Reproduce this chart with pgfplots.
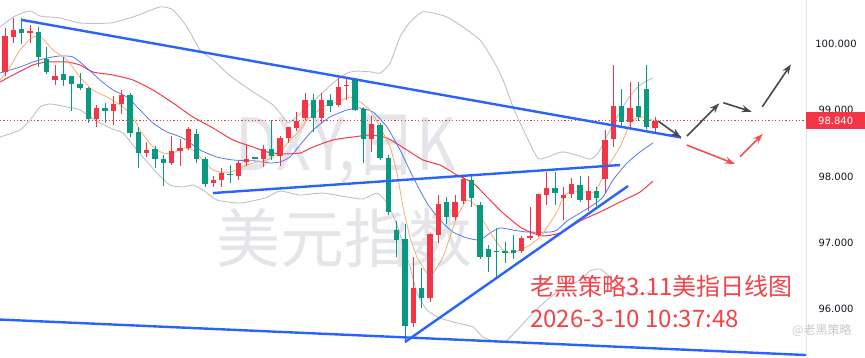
\documentclass[border=0pt]{standalone}
\usepackage{fontspec}
\setmainfont{Noto Sans CJK SC}
\newfontfamily\dejavu{DejaVu Sans}
\usepackage{pgfplots}
\usepackage{pgfplotstable}
\pgfplotsset{compat=1.18}
\usetikzlibrary{arrows.meta}
\definecolor{cup}{RGB}{242,54,69}
\definecolor{cdn}{RGB}{8,153,129}
\definecolor{ma5}{RGB}{246,172,112}
\definecolor{ma10}{RGB}{84,120,240}
\definecolor{ma20}{RGB}{242,60,72}
\definecolor{boll}{RGB}{192,192,200}
\definecolor{trend}{RGB}{41,98,255}
\definecolor{arrk}{RGB}{72,72,72}
\definecolor{arrr}{RGB}{245,78,78}
\definecolor{wm}{RGB}{229,229,233}
\definecolor{txtr}{RGB}{243,66,72}
\definecolor{tick}{RGB}{19,23,34}

\pgfplotstableread{
i o h l c
1 99.58 100.24 99.51 100.12
2 100.11 100.39 100.02 100.21
4 100.16 100.29 100.01 100.20
7 99.46 99.68 99.38 99.52
12 98.87 99.08 98.75 99.04
14 98.99 99.21 98.78 99.09
15 99.09 99.31 98.95 99.23
18 98.36 98.52 98.29 98.40
21 98.21 98.61 98.17 98.38
22 98.39 98.56 98.16 98.43
23 98.43 98.74 98.40 98.72
26 97.90 98.00 97.84 97.95
27 97.94 98.13 97.84 98.05
29 98.01 98.25 97.94 98.21
30 98.22 98.47 98.16 98.26
32 98.26 98.47 98.14 98.41
34 98.31 98.61 98.16 98.58
35 98.58 98.75 98.50 98.74
36 98.73 98.97 98.68 98.84
37 98.88 99.26 98.85 99.16
39 98.88 99.26 98.80 99.16
41 99.08 99.48 99.05 99.35
42 99.36 99.48 99.16 99.37
45 98.56 98.91 98.37 98.79
50 95.78 96.78 95.73 96.32
52 96.16 97.14 96.11 97.13
53 97.11 97.72 97.00 97.59
55 97.39 97.72 97.34 97.62
56 97.63 98.00 97.59 97.96
63 96.88 97.10 96.85 97.07
64 97.07 97.54 97.04 97.10
65 97.11 97.74 97.09 97.73
66 97.72 98.07 97.57 97.82
68 97.68 97.84 97.34 97.72
69 97.73 97.97 97.67 97.89
71 97.65 98.00 97.48 97.78
73 97.96 98.70 97.75 98.55
74 98.56 99.68 98.44 99.06
76 98.82 99.42 98.71 99.03
79 98.73 98.89 98.66 98.84
}\upc

\pgfplotstableread{
i o h l c
3 100.23 100.39 99.995 100.17
5 100.18 100.25 99.66 99.81
6 99.78 99.96 99.55 99.58
8 99.55 99.81 99.37 99.46
9 99.51 99.52 98.99 99.40
10 99.40 99.56 99.31 99.34
11 99.34 99.35 98.81 98.87
13 99.04 99.11 98.80 98.99
16 99.23 99.26 98.59 98.65
17 98.67 98.74 98.13 98.36
19 98.41 98.46 98.13 98.27
20 98.27 98.32 97.86 98.21
24 98.64 98.71 98.20 98.27
25 98.26 98.29 97.84 97.89
28 98.04 98.17 97.90 98.02
31 98.28 98.29 98.26 98.27
33 98.41 98.85 98.25 98.31
38 99.16 99.24 98.67 98.88
40 99.16 99.24 98.98 99.07
43 99.47 99.48 98.99 99.01
44 99.02 99.05 98.21 98.56
46 98.78 98.80 98.25 98.28
47 98.28 98.32 97.41 97.47
48 97.19 97.33 96.79 97.04
49 97.05 97.28 95.49 95.74
51 96.32 96.61 96.01 96.16
54 97.62 97.69 97.28 97.39
57 97.95 98.02 97.54 97.68
58 97.57 97.62 96.75 96.79
59 96.90 96.96 96.56 96.79
60 96.87 97.22 96.46 96.86
61 96.86 97.01 96.69 96.85
62 96.89 97.11 96.76 96.84
67 97.82 98.06 97.57 97.75
70 97.87 98.00 97.62 97.65
72 97.78 97.84 97.56 97.67
75 99.06 99.32 98.74 98.82
77 99.06 99.43 98.84 98.89
78 99.32 99.68 98.71 98.74
}\dnc

\pgfplotsset{
  candle/.style 2 args={only marks, mark=*, mark size=0pt, mark options={draw=none, fill=none},
    error bars/.cd, y dir=plus, y explicit, error mark=none,
    error bar style={draw=#1, line width=#2}},
}

\begin{document}
\begin{tikzpicture}
% watermark
\node[anchor=base, text=wm, font=\fontsize{72}{80}\selectfont, inner sep=0pt] at (346pt,187pt) {\scalebox{0.85}[1]{DXY,日K}};
\node[anchor=base, text=wm, font=\fontsize{64}{70}\selectfont, inner sep=0pt] at (344pt,94.5pt) {美元指数};

\begin{axis}[
  at={(0,0)}, anchor=south west,
  width=806pt, height=357pt, scale only axis,
  xmin=0.4, xmax=97.12, ymin=95.2723, ymax=100.6647,
  axis line style={draw=none},
  xtick=\empty,
  ytick={96,97,98,99,100},
  yticklabel pos=right,
  major tick length=0pt,
  yticklabel style={anchor=center, xshift=30pt, text=tick, font=\dejavu\fontsize{10}{12}\selectfont,
    /pgf/number format/.cd, fixed, fixed zerofill, precision=3, assume math mode=true},
  clip=true,
]
% Bollinger bands
\addplot[boll, line width=0.9pt, smooth, tension=0.35] coordinates {
(0.4,100.257) (2.2,100.423) (4.0,100.499) (5.2,100.423) (7.6,100.393) (10.0,100.317) (13.6,100.317) (16.36,100.408) (19.6,100.559) (21.16,100.514) (22.84,100.257) (24.4,99.91) (25.96,99.76) (27.64,99.56) (29.2,99.41) (31.6,99.21) (33.16,99.08) (34.36,98.90) (34.96,98.81) (35.8,98.88) (37.24,99.05) (38.8,99.23) (40.36,99.41) (42.04,99.56) (43.24,99.59) (44.8,99.58) (46.0,99.56) (47.2,99.71) (48.4,100.106) (49.6,100.33) (51.04,100.483) (52.36,100.468) (54.04,100.408) (55.96,100.257) (58.0,100.06) (59.56,99.76) (60.76,99.46) (61.96,99.05) (62.8,98.81) (64.84,98.29) (65.8,98.28) (67.84,98.37) (69.64,98.32) (71.2,98.26) (72.16,98.35) (73.6,98.70) (75.64,99.15) (77.2,99.38) (78.76,99.49)};
\addplot[boll, line width=0.9pt, smooth, tension=0.35] coordinates {
(0.4,98.595) (2.8,98.701) (4.0,98.852) (5.2,99.048) (6.4,99.094) (8.44,99.048) (10.0,99.003) (12.4,98.807) (14.2,98.701) (15.16,98.656) (16.84,98.399) (19.24,98.051) (20.8,97.870) (22.36,97.840) (23.56,97.870) (24.76,97.795) (26.44,97.644) (29.2,97.598) (32.2,97.674) (34.0,97.779) (36.4,97.719) (39.16,97.749) (42.04,97.689) (43.96,97.659) (45.64,97.749) (46.84,97.598) (48.04,97.266) (49.6,96.631) (50.44,96.239) (51.64,95.982) (53.2,95.861) (55.24,95.786) (57.16,95.725) (58.36,95.574) (60.04,95.499) (61.24,95.529) (62.8,95.725) (64.36,95.937) (66.04,96.133) (67.6,96.284) (70.0,96.435) (71.2,96.571) (72.4,96.601) (73.6,96.480) (74.8,96.284) (76.0,96.208) (78.04,96.239) (79.0,96.314)};
% MA20 (red)
\addplot[ma20, line width=1pt, smooth, tension=0.35] coordinates {
(0.4,99.426) (1.96,99.532) (4.36,99.683) (6.04,99.728) (8.44,99.728) (10.0,99.683) (11.56,99.577) (13.96,99.532) (16.36,99.456) (18.76,99.305) (21.16,99.109) (23.56,98.897) (25.96,98.731) (28.36,98.550) (30.76,98.444) (32.44,98.369) (34.36,98.339) (36.4,98.353) (37.96,98.444) (40.36,98.550) (42.76,98.595) (44.8,98.625) (46.84,98.580) (49.24,98.399) (51.16,98.248) (53.2,98.172) (55.24,98.021) (57.16,97.900) (58.84,97.689) (60.76,97.447) (62.8,97.236) (64.0,97.160) (65.56,97.100) (67.6,97.145) (70.0,97.326) (72.4,97.462) (74.8,97.613) (77.2,97.764) (78.76,97.930)};
% MA10 (blue)
\addplot[ma10, line width=0.8pt, smooth, tension=0.35] coordinates {
(0.4,99.562) (2.8,99.653) (4.36,99.728) (6.04,99.789) (7.6,99.819) (9.16,99.804) (10.84,99.637) (12.4,99.456) (13.96,99.305) (15.64,99.199) (17.2,99.003) (18.76,98.807) (20.44,98.671) (22.36,98.580) (24.4,98.399) (26.44,98.293) (28.36,98.248) (31.24,98.233) (32.8,98.203) (34.0,98.218) (35.2,98.293) (36.4,98.474) (37.96,98.701) (40.0,98.897) (42.04,99.003) (43.6,99.033) (45.16,98.973) (46.84,98.746) (48.4,98.399) (49.96,97.991) (51.64,97.598) (53.2,97.341) (54.76,97.160) (56.44,97.070) (58.0,97.039) (59.2,97.145) (60.4,97.221) (61.96,97.190) (63.64,97.160) (66.4,97.160) (67.24,97.190) (68.44,97.326) (70.0,97.447) (71.56,97.568) (72.76,97.689) (73.96,97.946) (75.64,98.202) (77.2,98.369) (78.76,98.505)};
% MA5 (orange)
\addplot[ma5, line width=0.8pt, smooth, tension=0.35] coordinates {
(0.4,99.456) (1.6,99.653) (2.8,99.910) (4.36,100.106) (5.44,100.091) (6.76,99.910) (8.44,99.758) (10.0,99.502) (11.56,99.305) (13.24,99.199) (15.16,99.048) (16.36,98.897) (17.2,98.701) (18.76,98.444) (19.96,98.353) (21.16,98.353) (22.36,98.429) (23.56,98.399) (24.76,98.248) (25.96,98.097) (27.64,98.051) (29.2,98.127) (30.76,98.202) (32.44,98.248) (34.0,98.369) (35.2,98.550) (36.4,98.701) (37.24,98.852) (39.16,99.048) (40.84,99.124) (42.4,99.199) (43.6,99.124) (44.8,99.003) (46.0,98.746) (47.2,98.444) (48.04,98.051) (48.76,97.538) (49.6,97.085) (50.44,96.783) (51.64,96.541) (52.36,96.541) (53.56,96.783) (54.4,97.085) (55.24,97.387) (56.44,97.644) (57.64,97.538) (58.36,97.341) (59.56,97.085) (60.76,96.888) (61.6,96.843) (62.8,96.888) (64.0,96.964) (65.2,97.085) (66.4,97.296) (67.36,97.493) (67.96,97.689) (68.8,97.765) (70.36,97.765) (71.8,97.765) (72.4,97.900) (73.6,98.203) (74.8,98.444) (75.76,98.731) (76.36,98.852) (77.56,98.897) (78.64,98.852)};

% candles: wicks
\addplot[candle={cup}{1pt}]
  table[x=i, y=l, y error plus expr=\thisrow{h}-\thisrow{l}] {\upc};
\addplot[candle={cdn}{1pt}]
  table[x=i, y=l, y error plus expr=\thisrow{h}-\thisrow{l}] {\dnc};
% candles: bodies
\addplot[candle={cup}{5.6pt}]
  table[x=i, y expr={min(\thisrow{o},\thisrow{c})}, y error plus expr={max(abs(\thisrow{c}-\thisrow{o}),0.016)}] {\upc};
\addplot[candle={cdn}{5.6pt}]
  table[x=i, y expr={min(\thisrow{o},\thisrow{c})}, y error plus expr={max(abs(\thisrow{c}-\thisrow{o}),0.016)}] {\dnc};

% current price dotted line
\addplot[cup, line width=0.8pt, dash pattern=on 1.2pt off 2.2pt] coordinates {(0.4,98.84) (97.12,98.84)};

% trend lines
\addplot[trend, line width=2.4pt] coordinates {(3.04,100.363) (82.12,98.588)};
\addplot[trend, line width=2.4pt] coordinates {(25.96,97.749) (74.8,98.172)};
\addplot[trend, line width=2.4pt] coordinates {(49.0,95.499) (75.76,97.855)};
\addplot[trend, line width=2.4pt] coordinates {(0.4,95.838) (97.12,95.302)};

% arrows
\addplot[arrk, line width=1.6pt, -{Stealth[length=10pt,width=7pt]}] coordinates {(79.36,98.837) (82.12,98.588)};
\addplot[arrk, line width=1.6pt, -{Stealth[length=10pt,width=7pt]}] coordinates {(82.84,98.610) (86.72,99.104)};
\addplot[arrk, line width=1.6pt, -{Stealth[length=10pt,width=7pt]}] coordinates {(87.2,99.113) (90.6,98.977)};
\addplot[arrk, line width=1.6pt, -{Stealth[length=10pt,width=7pt]}] coordinates {(91.88,99.053) (95.32,99.693)};
\addplot[arrr, line width=1.6pt, -{Stealth[length=10pt,width=7pt]}] coordinates {(82.8,98.474) (88.6,98.188)};
\addplot[arrr, line width=1.6pt, -{Stealth[length=10pt,width=7pt]}] coordinates {(89.2,98.298) (91.92,98.641)};

\coordinate (pl) at (axis cs:97.12,98.84);
\end{axis}

% right border
\draw[color={rgb,255:red,224;green,227;blue,235}, line width=0.8pt] (806pt,0pt) -- (806pt,357pt);
% current price label
\node[fill=cup, text=white, font=\dejavu\fontsize{10}{12}\selectfont, minimum width=59pt, minimum height=17pt, inner sep=0pt, anchor=west] at (pl) {98.840};

% red text
\node[anchor=base west, text=txtr, font=\fontsize{24}{28}\selectfont, inner sep=0pt] at (530pt,61.7pt) {老黑策略3.11美指日线图};
\node[anchor=base west, text=txtr, font=\fontsize{24}{28}\selectfont, inner sep=0pt] at (530pt,30pt) {2026-3-10 10:37:48};
% source watermark
\node[anchor=base west, text={rgb,255:red,200;green,200;blue,205}, font=\fontsize{12}{14}\selectfont, inner sep=0pt] at (792pt,23pt) {@老黑策略};

\pgfresetboundingbox
\path[use as bounding box] (0pt,0pt) rectangle (865pt,357pt);
\end{tikzpicture}
\end{document}
